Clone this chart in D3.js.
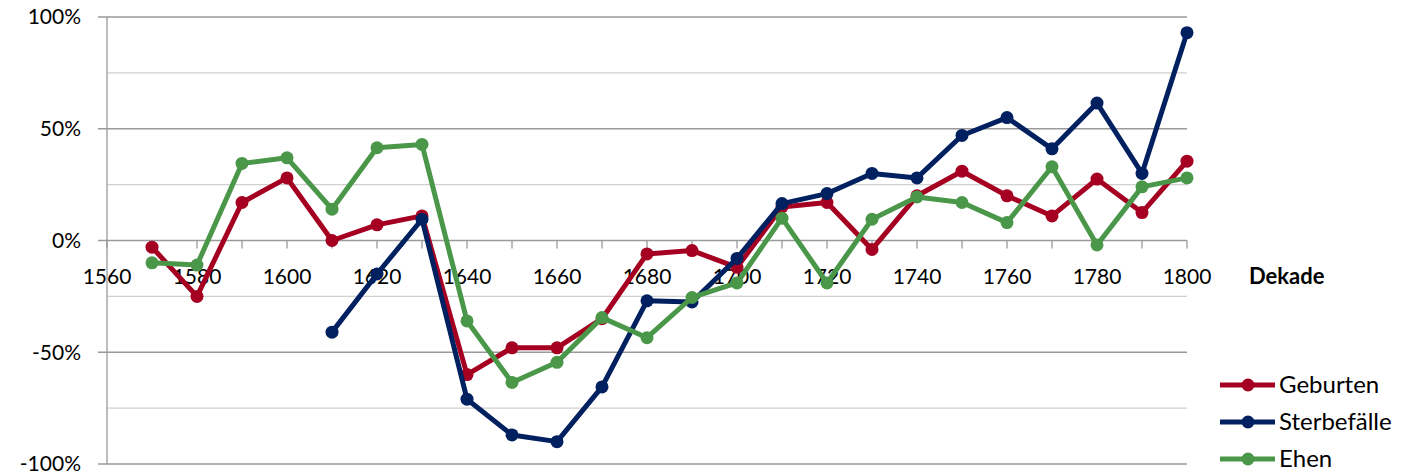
<!DOCTYPE html>
<html>
<head>
<meta charset="utf-8">
<script src="https://cdn.jsdelivr.net/npm/d3@7/dist/d3.min.js"></script>
<style>
  body { margin: 0; background: #fff; }
  text { font-family: Lato, "Open Sans", sans-serif; fill: #000; }
</style>
</head>
<body>
<script>
var decades = [1570,1580,1590,1600,1610,1620,1630,1640,1650,1660,1670,1680,1690,1700,1710,1720,1730,1740,1750,1760,1770,1780,1790,1800];
var geburten = [-3,-25,17,28,0,7,11,-60,-48,-48,-35,-6,-4.5,-12,15,17,-4,20,31,20,11,27.5,12.5,35.5];
var sterbefaelle = [null,null,null,null,-41,-15,9.5,-71,-87,-90,-65.5,-27,-27.5,-8,16.5,21,30,28,47,55,41,61.5,30,93];
var ehen = [-10,-11,34.5,37,14,41.5,43,-36,-63.5,-54.5,-34.5,-43.5,-25.5,-19,10,-19,9.5,19.5,17,8,33,-2,24,28];
var seriesNames = ["Geburten","Sterbefälle","Ehen"];
var seriesColors = ["#A50021","#002060","#4A974A"];
var yTicks = [-100,-50,0,50,100];
var yMinor = [-75,-25,25,75];
var xLabelYears = [1560,1580,1600,1620,1640,1660,1680,1700,1720,1740,1760,1780,1800];

var width = 1416, height = 474;
var plotLeft = 107, plotRight = 1187, plotTop = 17, plotBottom = 464;

var svg = d3.select("body").append("svg")
  .attr("width", width).attr("height", height);

var xScale = d3.scaleLinear().domain([1560,1800]).range([plotLeft,plotRight]);
var yScale = d3.scaleLinear().domain([-100,100]).range([plotBottom,plotTop]);

// gridlines
svg.selectAll("line.minor").data(yMinor).enter().append("line")
  .attr("x1", plotLeft).attr("x2", plotRight)
  .attr("y1", function(d){return yScale(d);}).attr("y2", function(d){return yScale(d);})
  .attr("stroke", "#d0d0d0").attr("stroke-width", 1.3);

svg.selectAll("line.major").data(yTicks).enter().append("line")
  .attr("x1", plotLeft - 9).attr("x2", plotRight)
  .attr("y1", function(d){return yScale(d);}).attr("y2", function(d){return yScale(d);})
  .attr("stroke", "#9a9a9a").attr("stroke-width", 1.3);

// y axis line
svg.append("line")
  .attr("x1", plotLeft).attr("x2", plotLeft).attr("y1", plotTop).attr("y2", plotBottom)
  .attr("stroke", "#9a9a9a").attr("stroke-width", 1.3);

svg.selectAll("text.ylab").data(yTicks).enter().append("text")
  .attr("x", plotLeft - 26).attr("y", function(d){return yScale(d);})
  .attr("dy", "0.35em").attr("text-anchor", "end")
  .style("font-size", "21px")
  .text(function(d){return d + "%";});

// x axis at 0
var xTickYears = d3.range(1560, 1801, 10);
svg.selectAll("line.xtick").data(xTickYears).enter().append("line")
  .attr("x1", function(d){return xScale(d);}).attr("x2", function(d){return xScale(d);})
  .attr("y1", yScale(0)).attr("y2", yScale(0) + 8)
  .attr("stroke", "#9a9a9a").attr("stroke-width", 1.3);

svg.selectAll("text.xlab").data(xLabelYears).enter().append("text")
  .attr("x", function(d){return xScale(d);}).attr("y", yScale(0) + 43)
  .attr("text-anchor", "middle")
  .style("font-size", "21px")
  .text(function(d){return d;});

svg.append("text")
  .attr("x", 1249).attr("y", yScale(0) + 43)
  .style("font-size", "22px").style("font-weight", "bold")
  .text("Dekade");

// series
var allSeries = [geburten, sterbefaelle, ehen];
var line = d3.line()
  .defined(function(d){return d[1] !== null;})
  .x(function(d){return xScale(d[0]);})
  .y(function(d){return yScale(d[1]);});

allSeries.forEach(function(vals, i){
  var pts = decades.map(function(y, j){return [y, vals[j]];});
  var g = svg.append("g");
  g.append("path").datum(pts)
    .attr("d", line)
    .attr("fill", "none")
    .attr("stroke", seriesColors[i])
    .attr("stroke-width", 5)
    .attr("stroke-linejoin", "round");
  g.selectAll("circle").data(pts.filter(function(d){return d[1] !== null;})).enter().append("circle")
    .attr("cx", function(d){return xScale(d[0]);})
    .attr("cy", function(d){return yScale(d[1]);})
    .attr("r", 6.5)
    .attr("fill", seriesColors[i]);
});

// legend
var legend = svg.selectAll("g.legend").data(seriesNames).enter().append("g")
  .attr("transform", function(d, i){return "translate(1220," + (385 + i * 37) + ")";});
legend.append("line")
  .attr("x1", 0).attr("x2", 55).attr("y1", 0).attr("y2", 0)
  .attr("stroke", function(d, i){return seriesColors[i];})
  .attr("stroke-width", 5);
legend.append("circle")
  .attr("cx", 28).attr("cy", 0).attr("r", 6.5)
  .attr("fill", function(d, i){return seriesColors[i];});
legend.append("text")
  .attr("x", 59).attr("y", 0).attr("dy", "0.35em")
  .style("font-size", "24px")
  .text(function(d){return d;});
</script>
</body>
</html>
